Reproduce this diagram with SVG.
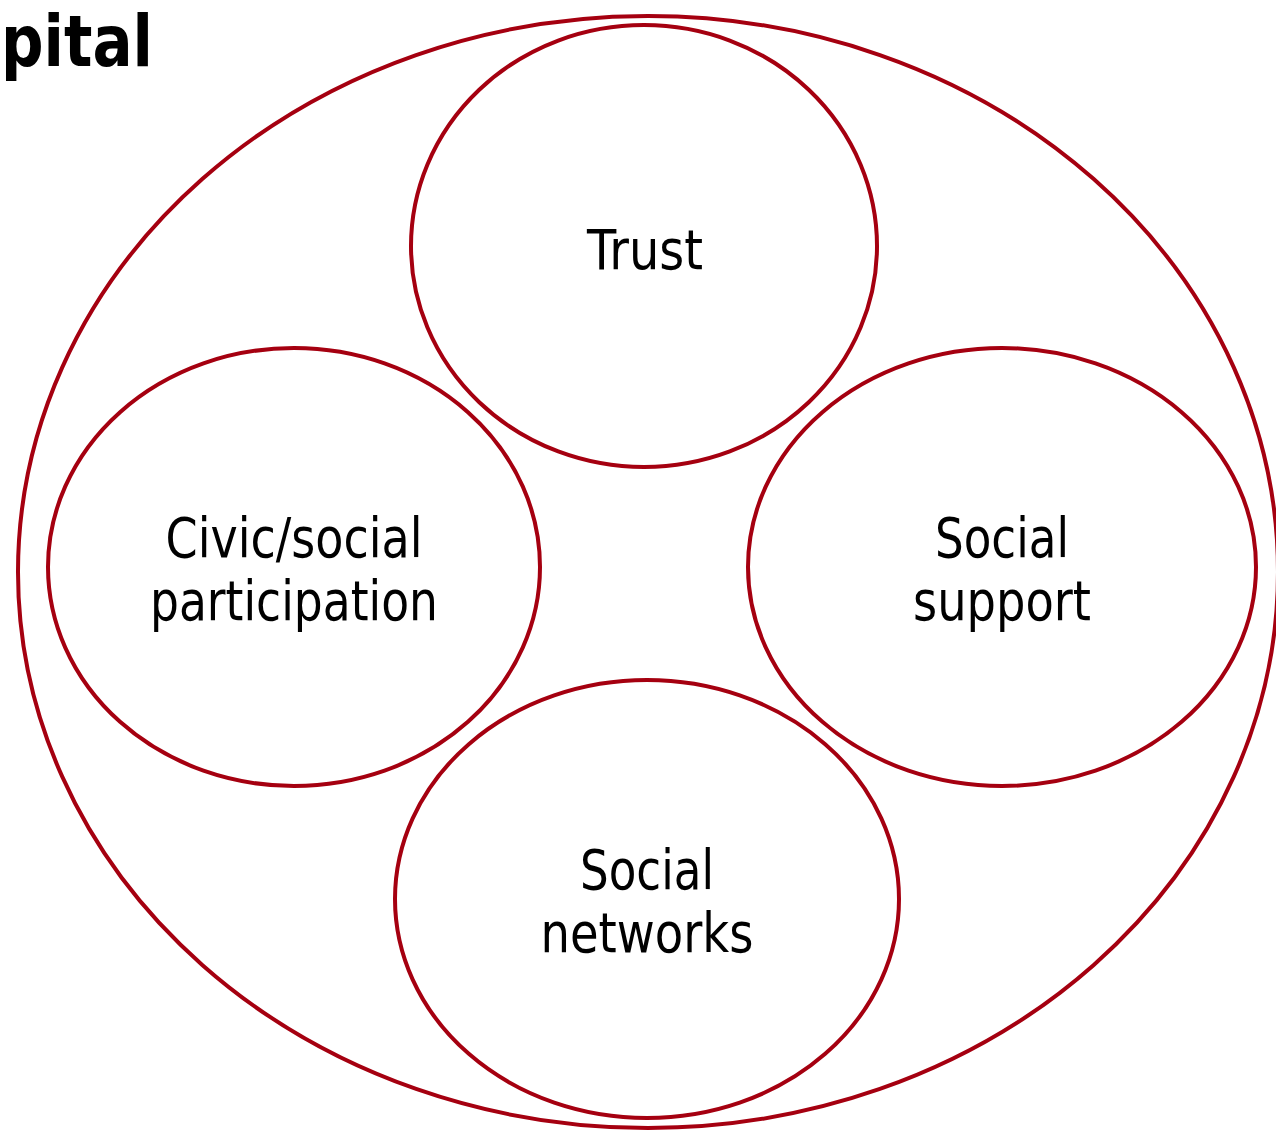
<svg xmlns="http://www.w3.org/2000/svg" width="1276" height="1132" viewBox="0 0 1276 1132">
<style>
.c{fill:#fff;stroke:#A50010;stroke-width:4}
.t{font-family:"DejaVu Sans",sans-serif;font-size:56px;fill:#000;text-anchor:middle}
.h{font-family:"DejaVu Sans",sans-serif;font-weight:bold;font-size:72px;fill:#000}
</style>
<rect width="1276" height="1132" fill="#fff"/>
<text class="h" x="1" y="66" textLength="152" lengthAdjust="spacingAndGlyphs">pital</text>
<g id="outer"><ellipse class="c" cx="648" cy="572" rx="630" ry="556"/></g>
<g id="connectors"></g>
<g id="trust"><ellipse class="c" cx="644" cy="246" rx="233" ry="221"/>
<text class="t" x="645" y="269" textLength="116" lengthAdjust="spacingAndGlyphs">Trust</text></g>
<g id="civic"><ellipse class="c" cx="294" cy="567" rx="246" ry="219"/>
<text class="t" x="294" y="557" textLength="257" lengthAdjust="spacingAndGlyphs">Civic/social</text>
<text class="t" x="294" y="620" textLength="288" lengthAdjust="spacingAndGlyphs">participation</text></g>
<g id="support"><ellipse class="c" cx="1002" cy="567" rx="254" ry="219"/>
<text class="t" x="1002" y="557" textLength="134" lengthAdjust="spacingAndGlyphs">Social</text>
<text class="t" x="1002" y="620" textLength="178" lengthAdjust="spacingAndGlyphs">support</text></g>
<g id="networks"><ellipse class="c" cx="647" cy="899" rx="252" ry="219"/>
<text class="t" x="647" y="889" textLength="134" lengthAdjust="spacingAndGlyphs">Social</text>
<text class="t" x="647" y="952" textLength="213" lengthAdjust="spacingAndGlyphs">networks</text></g>
</svg>
